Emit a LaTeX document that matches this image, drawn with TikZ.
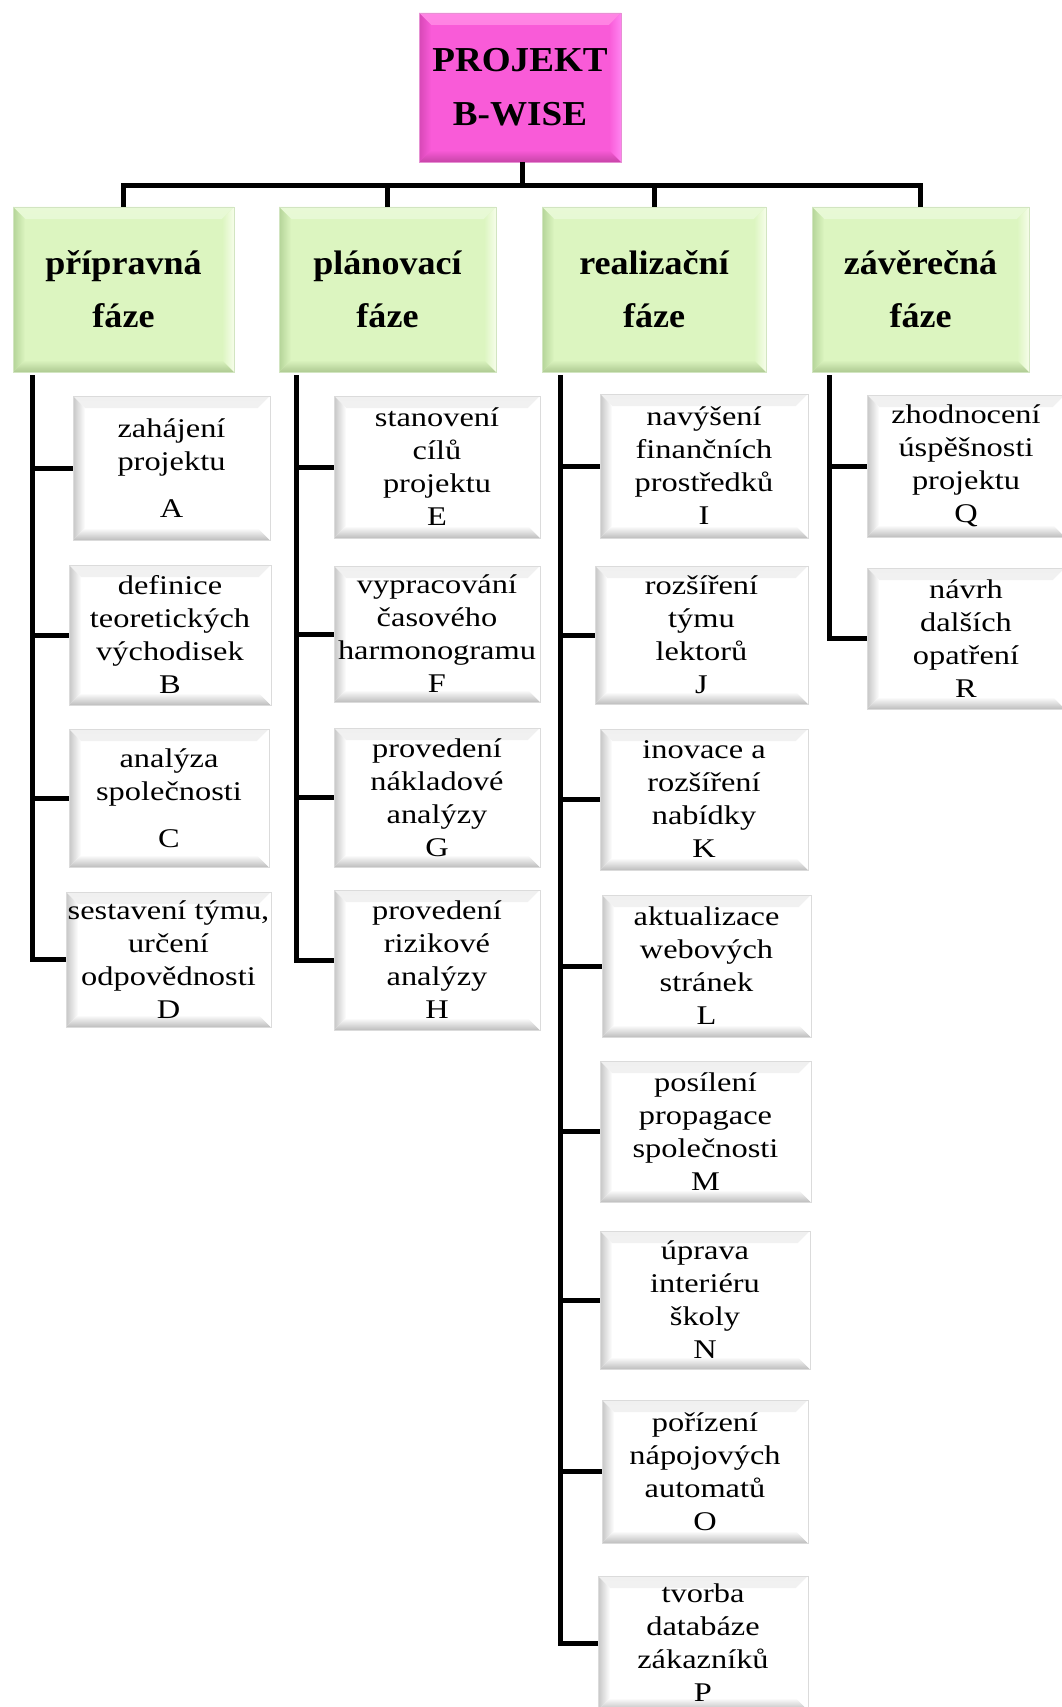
\documentclass[tikz,border=0pt]{standalone}
\usepackage{fontspec}
\setmainfont{Liberation Serif}
\newfontfamily\childfont[FakeStretch=1.2]{Liberation Serif}
\newfontfamily\headfont[FakeStretch=1.06]{Liberation Serif}
\definecolor{rootface}{HTML}{F95BD8}
\definecolor{roottop}{HTML}{FF86E4}
\definecolor{rootleft}{HTML}{D648B6}
\definecolor{rootbot}{HTML}{C844A8}
\definecolor{rootright}{HTML}{FF84F0}
\definecolor{phface}{HTML}{DCF5C0}
\definecolor{phtop}{HTML}{E8F9D6}
\definecolor{phleft}{HTML}{B4D498}
\definecolor{phbot}{HTML}{AECA92}
\definecolor{phright}{HTML}{F6FDEA}
\definecolor{chface}{HTML}{FFFFFF}
\definecolor{chtop}{HTML}{F0F0F0}
\definecolor{chleft}{HTML}{C6C6C6}
\definecolor{chbot}{HTML}{BEBEBE}
\definecolor{chright}{HTML}{FFFFFF}
\tikzset{
  bevel/.style n args={6}{
    fill=#1, draw=#6, line width=0.8pt, inner sep=0pt, align=center,
    path picture={
      \def\bw{12pt}
      \shade[top color=#2, bottom color=#1] (path picture bounding box.north west) -- (path picture bounding box.north east)
        -- ([xshift=-\bw,yshift=-\bw]path picture bounding box.north east)
        -- ([xshift=\bw,yshift=-\bw]path picture bounding box.north west) -- cycle;
      \shade[left color=#3, right color=#1] (path picture bounding box.north west) -- (path picture bounding box.south west)
        -- ([xshift=\bw,yshift=\bw]path picture bounding box.south west)
        -- ([xshift=\bw,yshift=-\bw]path picture bounding box.north west) -- cycle;
      \shade[bottom color=#4, top color=#1] (path picture bounding box.south west) -- (path picture bounding box.south east)
        -- ([xshift=-\bw,yshift=\bw]path picture bounding box.south east)
        -- ([xshift=\bw,yshift=\bw]path picture bounding box.south west) -- cycle;
      \shade[right color=#5, left color=#1] (path picture bounding box.north east) -- (path picture bounding box.south east)
        -- ([xshift=-\bw,yshift=\bw]path picture bounding box.south east)
        -- ([xshift=-\bw,yshift=-\bw]path picture bounding box.north east) -- cycle;
    }},
  rootbox/.style={bevel={rootface}{roottop}{rootleft}{rootbot}{rootright}{rootleft!60!white},
    font=\headfont\bfseries\fontsize{35}{54}\selectfont},
  phasebox/.style={bevel={phface}{phtop}{phleft}{phbot}{phright}{phleft!60!white},
    font=\headfont\bfseries\fontsize{34}{53}\selectfont},
  childbox/.style={bevel={chface}{chtop}{chleft}{chbot}{chright}{black!14},
    font=\childfont\fontsize{27}{33}\selectfont},
  conn/.style={line width=5pt, draw=black}
}
\newcommand{\bx}[6]{\node[#1, minimum width=#4pt, minimum height=#5pt] (#2) at (#3) {#6};}
\begin{document}
\begin{tikzpicture}[x=1pt,y=-1pt]
\useasboundingbox[fill=white] (0,0) rectangle (1061,1707);
% root and phases
\bx{rootbox}{root}{520,87.5}{202}{149}{PROJEKT\\B-WISE}
\bx{phasebox}{P1}{123.5,289.5}{221}{165}{přípravná\\fáze}
\bx{phasebox}{P2}{387.5,289.5}{217}{165}{plánovací\\fáze}
\bx{phasebox}{P3}{654,289.5}{224}{165}{realizační\\fáze}
\bx{phasebox}{P4}{920.5,289.5}{217}{165}{závěrečná\\fáze}
% column 1
\bx{childbox}{A}{171.5,468}{197}{144}{zahájení\\projektu\\[14pt]A}
\bx{childbox}{B}{170,635}{202}{140}{definice\\teoretických\\východisek\\B}
\bx{childbox}{C}{169,798}{200}{138}{analýza\\společnosti\\[14pt]C}
\bx{childbox}{D}{168.5,959.5}{205}{135}{sestavení týmu,\\určení\\odpovědnosti\\D}
% column 2
\bx{childbox}{E}{437,467}{206}{142}{stanovení\\cílů\\projektu\\E}
\bx{childbox}{F}{437,634}{206}{136}{vypracování\\časového\\harmonogramu\\F}
\bx{childbox}{G}{437,797.5}{206}{139}{provedení\\nákladové\\analýzy\\G}
\bx{childbox}{H}{437,960}{206}{140}{provedení\\rizikové\\analýzy\\H}
% column 3
\bx{childbox}{I}{704,466}{208}{144}{navýšení\\finančních\\prostředků\\I}
\bx{childbox}{J}{701.5,635}{213}{138}{rozšíření\\týmu\\lektorů\\J}
\bx{childbox}{K}{704,799.5}{208}{141}{inovace a\\rozšíření\\nabídky\\K}
\bx{childbox}{L}{706.5,966}{209}{142}{aktualizace\\webových\\stránek\\L}
\bx{childbox}{M}{705.5,1131.5}{211}{141}{posílení\\propagace\\společnosti\\M}
\bx{childbox}{N}{705,1300}{210}{138}{úprava\\interiéru\\školy\\N}
\bx{childbox}{O}{705,1471.5}{206}{143}{pořízení\\nápojových\\automatů\\O}
\bx{childbox}{Pp}{703,1643}{210}{134}{tvorba\\databáze\\zákazníků\\P}
% column 4
\bx{childbox}{Q}{966,466}{198}{142}{zhodnocení\\úspěšnosti\\projektu\\Q}
\bx{childbox}{R}{966,638.5}{198}{141}{návrh\\dalších\\opatření\\R}
% connectors root -> phases
\draw[conn] ([xshift=2pt]root.south) -- ++(0,23) coordinate (bar);
\foreach \p in {P1,P2,P3,P4} \draw[conn] (bar) -| (\p.north);
% phases -> children
\foreach \c in {A,B,C,D} \draw[conn] ([xshift=20pt,yshift=-3pt]P1.south west) |- (\c.west);
\foreach \c in {E,F,G,H} \draw[conn] ([xshift=18pt,yshift=-3pt]P2.south west) |- (\c.west);
\foreach \c in {I,J,K,L,M,N,O,Pp} \draw[conn] ([xshift=19pt,yshift=-3pt]P3.south west) |- (\c.west);
\foreach \c in {Q,R} \draw[conn] ([xshift=18pt,yshift=-3pt]P4.south west) |- (\c.west);
\end{tikzpicture}
\end{document}
